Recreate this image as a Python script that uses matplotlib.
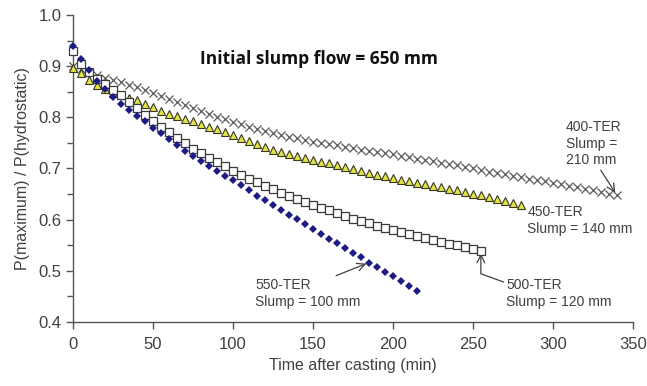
import numpy as np
import matplotlib
matplotlib.use("Agg")
import matplotlib.pyplot as plt
from matplotlib.ticker import MultipleLocator

# Normalised maximum lateral pressure vs. time after casting, sampled every 5 min
t_550 = np.arange(0, 216, 5)
p_550 = [0.940, 0.915, 0.892, 0.872, 0.855, 0.840, 0.827, 0.815, 0.803, 0.792,
         0.780, 0.769, 0.758, 0.746, 0.735, 0.725, 0.715, 0.705, 0.695, 0.686,
         0.677, 0.667, 0.657, 0.647, 0.638, 0.628, 0.619, 0.610, 0.601, 0.591,
         0.582, 0.572, 0.563, 0.554, 0.544, 0.535, 0.526, 0.516, 0.507, 0.498,
         0.489, 0.480, 0.470, 0.461]

t_500 = np.arange(0, 256, 5)
p_500 = [0.930, 0.905, 0.888, 0.875, 0.865, 0.854, 0.843, 0.830, 0.818, 0.805,
         0.793, 0.782, 0.771, 0.760, 0.749, 0.739, 0.730, 0.721, 0.712, 0.704,
         0.696, 0.688, 0.680, 0.673, 0.666, 0.659, 0.653, 0.647, 0.641, 0.635,
         0.629, 0.623, 0.618, 0.612, 0.607, 0.602, 0.597, 0.593, 0.588, 0.584,
         0.580, 0.576, 0.572, 0.568, 0.564, 0.561, 0.557, 0.553, 0.550, 0.546,
         0.543, 0.539]

t_450 = np.arange(0, 281, 5)
p_450 = [0.897, 0.886, 0.873, 0.864, 0.855, 0.848, 0.843, 0.838, 0.833, 0.827,
         0.820, 0.813, 0.807, 0.802, 0.797, 0.792, 0.787, 0.782, 0.777, 0.772,
         0.766, 0.760, 0.754, 0.748, 0.742, 0.737, 0.732, 0.728, 0.724, 0.720,
         0.717, 0.713, 0.710, 0.706, 0.703, 0.699, 0.695, 0.692, 0.688, 0.685,
         0.681, 0.678, 0.675, 0.672, 0.669, 0.666, 0.663, 0.660, 0.657, 0.654,
         0.651, 0.648, 0.644, 0.640, 0.636, 0.632, 0.628]

t_400 = np.arange(0, 341, 5)
p_400 = [0.900, 0.895, 0.888, 0.882, 0.877, 0.873, 0.869, 0.864, 0.859, 0.854,
         0.848, 0.842, 0.836, 0.830, 0.824, 0.818, 0.812, 0.806, 0.800, 0.796,
         0.791, 0.787, 0.782, 0.778, 0.774, 0.770, 0.766, 0.762, 0.759, 0.755,
         0.752, 0.750, 0.747, 0.745, 0.742, 0.740, 0.737, 0.735, 0.733, 0.730,
         0.728, 0.725, 0.722, 0.719, 0.717, 0.714, 0.711, 0.708, 0.706, 0.703,
         0.700, 0.697, 0.694, 0.692, 0.689, 0.686, 0.683, 0.680, 0.678, 0.675,
         0.672, 0.669, 0.666, 0.663, 0.660, 0.657, 0.654, 0.651, 0.648]

x_ticks = [0, 50, 100, 150, 200, 250, 300, 350]
y_ticks = [0.4, 0.5, 0.6, 0.7, 0.8, 0.9, 1.0]

plt.rcParams['font.family'] = ['Liberation Sans', 'DejaVu Sans']
txt = '#404040'

fig = plt.figure(figsize=(6.47, 3.86), dpi=100)
ax = fig.add_axes([0.113, 0.166, 0.865, 0.795])

ax.plot(t_400, p_400, ls='none', marker='x', ms=5.5, mew=0.9, color='#5a5a5a',
        zorder=3, clip_on=False)
ax.plot(t_450, p_450, ls='none', marker='^', ms=5.5, mew=0.8,
        mfc='#e3e34a', mec='#3a3a1a', zorder=4, clip_on=False)
ax.plot(t_500, p_500, ls='none', marker='s', ms=5.5, mew=0.9,
        mfc='white', mec='#3a3a3a', zorder=5, clip_on=False)
ax.plot(t_550, p_550, ls='none', marker='D', ms=4.2, mew=0,
        mfc='#1c1c86', zorder=6, clip_on=False)

ax.set_xlim(0, 350)
ax.set_ylim(0.4, 1.0)
ax.set_xticks(x_ticks)
ax.set_yticks(y_ticks)
ax.set_xticklabels([str(v) for v in x_ticks])
ax.set_yticklabels([f'{v:.1f}' for v in y_ticks])
ax.yaxis.set_minor_locator(MultipleLocator(0.05))

for s in ('top', 'right'):
    ax.spines[s].set_visible(False)
for s in ('left', 'bottom'):
    ax.spines[s].set_color('#555555')
    ax.spines[s].set_linewidth(1.0)

ax.tick_params(axis='both', which='major', direction='out', length=5, width=1,
               color='#555555', labelsize=12, labelcolor=txt)
ax.tick_params(axis='y', which='minor', direction='out', length=4, width=1, color='#555555')
ax.tick_params(axis='x', pad=6)

ax.set_xlabel('Time after casting (min)', fontsize=11.5, color=txt, labelpad=4)
ax.set_ylabel('P(maximum) / P(hydrostatic)', fontsize=11.5, color=txt, labelpad=6)

ax.text(0.226, 0.857, 'Initial slump flow = 650 mm', transform=ax.transAxes,
        fontsize=12.5, fontweight='bold', family='Open Sans', color='#111111',
        va='center', ha='left')

ann = dict(fontsize=10, color=txt, ha='left', va='top', linespacing=1.25)
arrow = dict(arrowstyle='->', color='#404040', lw=0.9, shrinkA=0, shrinkB=2,
             mutation_scale=14)

ax.annotate('400-TER\nSlump =\n210 mm', xy=(t_400[-1], p_400[-1]),
            xytext=(308, 0.795), arrowprops=dict(arrow, relpos=(0.6, 0.0)), **ann)
ax.text(284, 0.628, '450-TER\nSlump = 140 mm', **ann)
ax.annotate('500-TER\nSlump = 120 mm', xy=(t_500[-1], p_500[-1]),
            xytext=(271, 0.485),
            arrowprops=dict(arrow, relpos=(0.0, 0.85),
                            connectionstyle='angle,angleA=160,angleB=90,rad=0'), **ann)
ax.annotate('550-TER\nSlump = 100 mm', xy=(t_550[37], p_550[37]),
            xytext=(114, 0.485),
            arrowprops=dict(arrow, relpos=(0.7, 1.0)), **ann)

fig.savefig('out.png', dpi=100)
